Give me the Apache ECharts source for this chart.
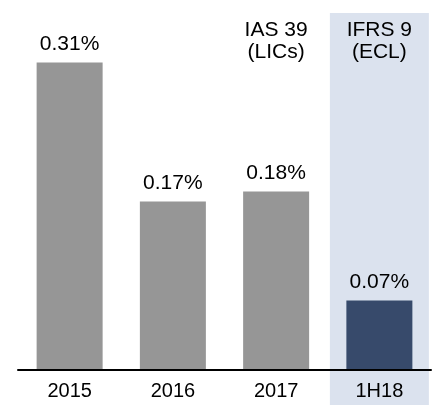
<!DOCTYPE html>
<html>
<head>
<meta charset="utf-8">
<script src="https://cdn.jsdelivr.net/npm/echarts@6/dist/echarts.min.js"></script>
<style>
  html, body { margin: 0; padding: 0; background: #fff; }
  #chart { width: 437px; height: 405px; }
</style>
</head>
<body>
<div id="chart"></div>
<script>
// loan impairment charge, % of loans
const categories = ['2015', '2016', '2017', '1H18']
const values = [0.31, 0.17, 0.18, 0.07]
const headers = ['', '', 'IAS 39\n(LICs)', 'IFRS 9\n(ECL)']
const shaded = [false, false, false, true]

const grey = '#969696'
const navy = '#374a6b'
const shade = '#dbe2ee'
const font = 'Liberation Sans, Arial, sans-serif'

const chart = echarts.init(document.getElementById('chart'))

const option = {
  animation: false,
  grid: [
    { left: 18, right: 6, top: 13, bottom: 35, outerBoundsMode: 'none' },
    { left: 18, right: 6, top: 13, bottom: 0, outerBoundsMode: 'none' }
  ],
  xAxis: [
    {
      type: 'category',
      gridIndex: 0,
      data: categories,
      z: 5,
      axisLine: { lineStyle: { color: '#000', width: 2 } },
      axisTick: { show: false },
      axisLabel: { color: '#000', fontSize: 20, fontFamily: font, margin: 11, interval: 0 }
    },
    {
      type: 'category',
      gridIndex: 1,
      data: categories,
      show: false
    }
  ],
  yAxis: [
    { type: 'value', gridIndex: 0, min: 0, max: 0.36, show: false },
    { type: 'value', gridIndex: 1, min: 0, max: 1, show: false }
  ],
  series: [
    {
      // backdrop band + header text
      type: 'bar',
      xAxisIndex: 1,
      yAxisIndex: 1,
      barWidth: 99,
      silent: true,
      z: 0,
      data: headers.map((h, i) => ({
        value: h ? 1 : null,
        itemStyle: { color: shaded[i] ? shade : 'rgba(0,0,0,0)' }
      })),
      label: {
        show: true,
        position: 'insideTop',
        distance: 6,
        color: '#000',
        fontSize: 21,
        lineHeight: 22,
        fontFamily: font,
        formatter: p => headers[p.dataIndex]
      }
    },
    {
      type: 'bar',
      xAxisIndex: 0,
      yAxisIndex: 0,
      barWidth: 66,
      z: 3,
      data: values.map((v, i) => ({
        value: v,
        itemStyle: { color: i === values.length - 1 ? navy : grey }
      })),
      label: {
        show: true,
        position: 'top',
        distance: 8,
        color: '#000',
        fontSize: 21,
        fontFamily: font,
        formatter: p => p.value.toFixed(2) + '%'
      }
    }
  ]
}

chart.setOption(option)
</script>
</body>
</html>
